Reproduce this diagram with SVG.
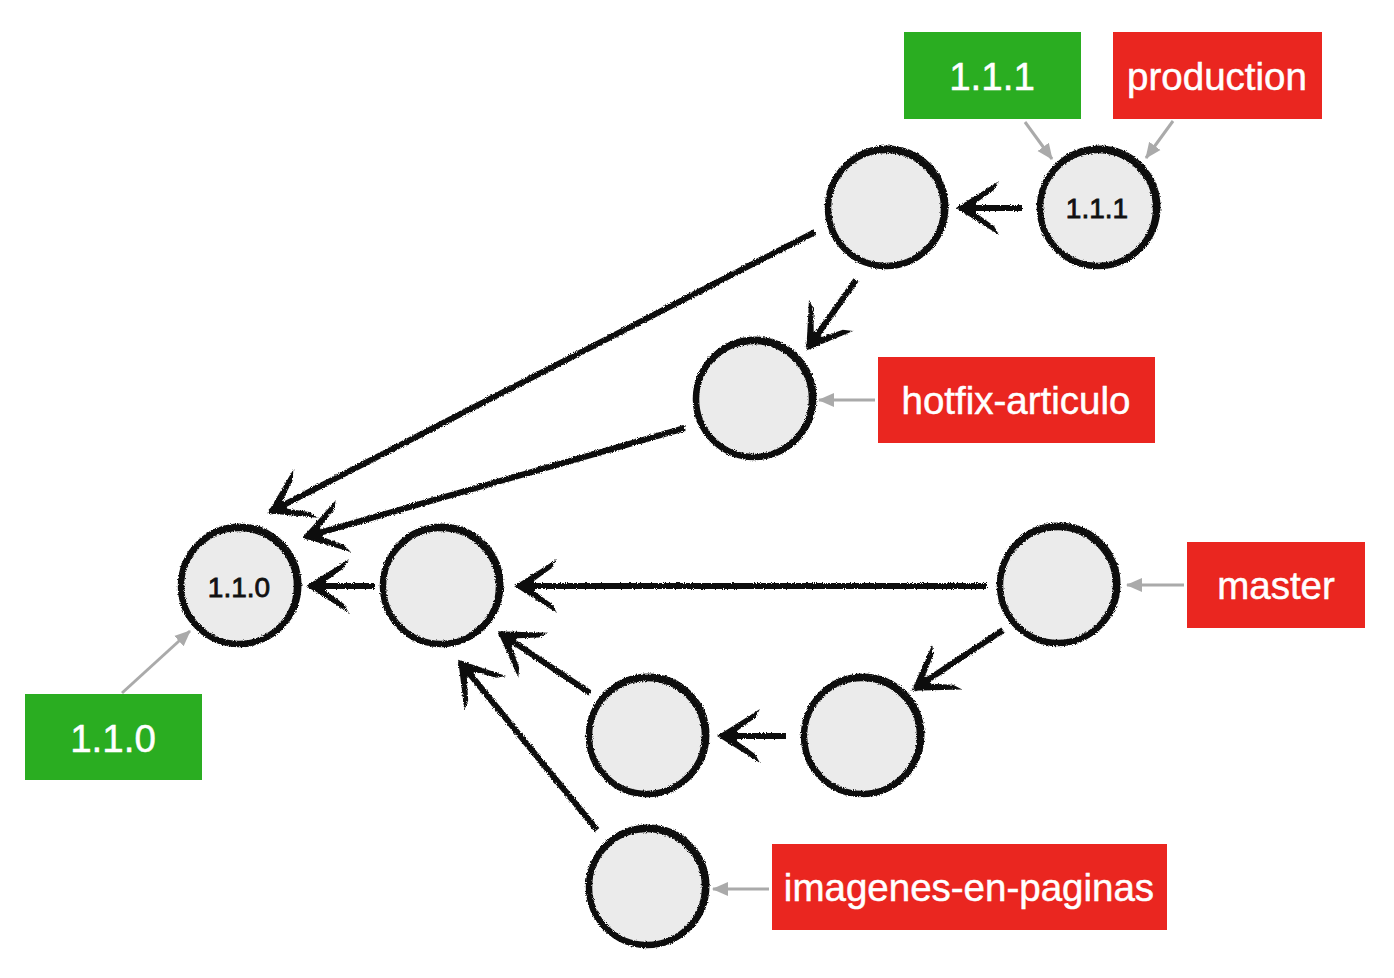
<svg xmlns="http://www.w3.org/2000/svg" width="1394" height="978" viewBox="0 0 1394 978">
<style>
.node circle.main{fill:#ebebeb;stroke:#111;stroke-width:6.5}
.node circle.sk{fill:none;stroke:#111;stroke-width:2}
.ntext{font-family:"Liberation Sans",Arial,sans-serif;font-size:28px;fill:#111;stroke:#111;stroke-width:0.8;text-anchor:middle}
.lbl rect.red{fill:#ea2620}
.lbl rect.green{fill:#2aad21}
.lbl text{font-family:"Liberation Sans",Arial,sans-serif;font-size:38.5px;fill:#fff;stroke:#fff;stroke-width:0.5;text-anchor:middle}
.edge{stroke:#111;stroke-width:6;fill:none;stroke-linecap:butt}
.ptr{stroke:#aaaaaa;stroke-width:3;fill:none}
</style>
<defs>
<filter id="rough" filterUnits="userSpaceOnUse" x="0" y="0" width="1394" height="978">
<feTurbulence type="fractalNoise" baseFrequency="0.9" numOctaves="2" seed="4" result="n"/>
<feDisplacementMap in="SourceGraphic" in2="n" scale="3.5" xChannelSelector="R" yChannelSelector="G"/>
</filter>
<marker id="dart" markerUnits="userSpaceOnUse" viewBox="-46 -30 52 60" refX="2" refY="0" markerWidth="52" markerHeight="60" orient="auto">
<polygon points="5,0 -38,-27 -33,-18 -15,-5 -15,5 -33,18 -38,27" fill="#111"/>
</marker>
<marker id="gray" markerUnits="userSpaceOnUse" viewBox="0 -8 16 16" refX="15" refY="0" markerWidth="16" markerHeight="16" orient="auto">
<polygon points="0,-7 16,0 0,7" fill="#aaaaaa"/>
</marker>
</defs>
<rect width="1394" height="978" fill="#fff"/>

<g id="connectors">
<g filter="url(#rough)">
<line class="edge" x1="1022" y1="208" x2="959" y2="208" marker-end="url(#dart)"/>
<line class="edge" x1="815" y1="232" x2="270" y2="512" marker-end="url(#dart)"/>
<line class="edge" x1="856" y1="280" x2="808" y2="348" marker-end="url(#dart)"/>
<line class="edge" x1="685" y1="428" x2="305" y2="537" marker-end="url(#dart)"/>
<line class="edge" x1="375" y1="586" x2="309" y2="586" marker-end="url(#dart)"/>
<line class="edge" x1="987" y1="586" x2="517" y2="586" marker-end="url(#dart)"/>
<line class="edge" x1="1003" y1="630" x2="914" y2="689" marker-end="url(#dart)"/>
<line class="edge" x1="786" y1="736" x2="720" y2="736" marker-end="url(#dart)"/>
<line class="edge" x1="590" y1="693" x2="500" y2="633" marker-end="url(#dart)"/>
<line class="edge" x1="597" y1="830" x2="460" y2="662" marker-end="url(#dart)"/>
</g>
<line class="ptr" x1="1025" y1="122" x2="1052" y2="159" marker-end="url(#gray)"/>
<line class="ptr" x1="1173" y1="121" x2="1146" y2="158" marker-end="url(#gray)"/>
<line class="ptr" x1="875" y1="400" x2="819" y2="400" marker-end="url(#gray)"/>
<line class="ptr" x1="1184" y1="585" x2="1127" y2="585" marker-end="url(#gray)"/>
<line class="ptr" x1="122" y1="693" x2="190" y2="631" marker-end="url(#gray)"/>
<line class="ptr" x1="769" y1="889" x2="713" y2="889" marker-end="url(#gray)"/>
</g>

<g id="node-110" class="node" filter="url(#rough)">
<circle class="main" cx="239" cy="586" r="58"/><circle class="sk" cx="240" cy="585" r="60.5"/>
</g>
<g id="node-B" class="node" filter="url(#rough)">
<circle class="main" cx="441" cy="586" r="58"/><circle class="sk" cx="442" cy="585" r="60.5"/>
</g>
<g id="node-C" class="node" filter="url(#rough)">
<circle class="main" cx="886" cy="208" r="58"/><circle class="sk" cx="887" cy="207" r="60.5"/>
</g>
<g id="node-111" class="node" filter="url(#rough)">
<circle class="main" cx="1098" cy="208" r="58"/><circle class="sk" cx="1099" cy="207" r="60.5"/>
</g>
<g id="node-E" class="node" filter="url(#rough)">
<circle class="main" cx="754" cy="399" r="58"/><circle class="sk" cx="755" cy="398" r="60.5"/>
</g>
<g id="node-F" class="node" filter="url(#rough)">
<circle class="main" cx="1058" cy="585" r="58"/><circle class="sk" cx="1059" cy="584" r="60.5"/>
</g>
<g id="node-G" class="node" filter="url(#rough)">
<circle class="main" cx="862" cy="736" r="58"/><circle class="sk" cx="863" cy="735" r="60.5"/>
</g>
<g id="node-H" class="node" filter="url(#rough)">
<circle class="main" cx="647" cy="736" r="58"/><circle class="sk" cx="648" cy="735" r="60.5"/>
</g>
<g id="node-I" class="node" filter="url(#rough)">
<circle class="main" cx="647" cy="887" r="58"/><circle class="sk" cx="648" cy="886" r="60.5"/>
</g>
<g id="node-texts">
<text class="ntext" x="239" y="597">1.1.0</text>
<text class="ntext" x="1097" y="218">1.1.1</text>
</g>

<g id="label-tag-111" class="lbl">
<rect class="green" x="904" y="32" width="177" height="87"/>
<text x="992" y="90">1.1.1</text>
</g>
<g id="label-production" class="lbl">
<rect class="red" x="1113" y="32" width="209" height="87"/>
<text x="1217" y="90">production</text>
</g>
<g id="label-hotfix" class="lbl">
<rect class="red" x="878" y="357" width="277" height="86"/>
<text x="1016" y="414">hotfix-articulo</text>
</g>
<g id="label-master" class="lbl">
<rect class="red" x="1187" y="542" width="178" height="86"/>
<text x="1276" y="599">master</text>
</g>
<g id="label-tag-110" class="lbl">
<rect class="green" x="25" y="694" width="177" height="86"/>
<text x="113" y="752">1.1.0</text>
</g>
<g id="label-imagenes" class="lbl">
<rect class="red" x="772" y="844" width="395" height="86"/>
<text x="969" y="901">imagenes-en-paginas</text>
</g>
</svg>
